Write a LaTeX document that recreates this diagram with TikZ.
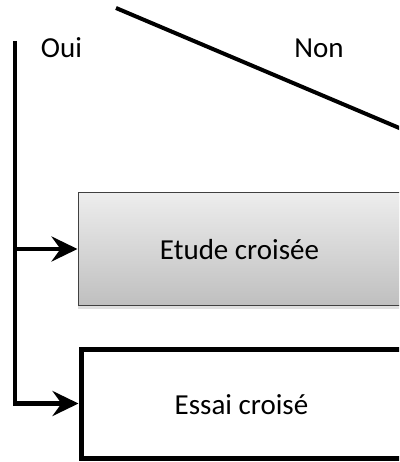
\documentclass[tikz,border=0pt]{standalone}
\usepackage{fontspec}
\setmainfont{Carlito}
\usetikzlibrary{arrows.meta,shadows}
\begin{document}
\begin{tikzpicture}[x=1pt,y=-1pt,
  lbl/.style={font=\fontsize{29}{34}\selectfont, inner sep=0pt, anchor=base},
  boxtext/.style={font=\fontsize{29}{34}\selectfont, text height=21pt, text depth=0pt, inner sep=0pt},
  conn/.style={line width=4.5pt, -{Stealth[length=26pt,width=25pt,inset=9pt]}},
  thick line/.style={line width=4pt},
]
\clip (0,0) rectangle (399,462);
\node[boxtext, draw=black!75, line width=1pt, top color=black!7, bottom color=black!25,
      minimum width=323pt, minimum height=113pt,
      drop shadow={opacity=0.25, shadow xshift=0pt, shadow yshift=-3pt}] (etude) at (239.5,249) {Etude croisée};
\node[boxtext, draw=black, line width=5pt, fill=white,
      minimum width=321pt, minimum height=109pt] (essai) at (241.5,403.5) {Essai croisé};
\coordinate (top) at (15,41);
\coordinate (j1) at (15,249);
\coordinate (d1) at (116,8);
\coordinate (d2) at (430,141);
\draw[conn] (top) |- (essai.west);
\draw[conn] (j1) -- (etude.west);
\draw[thick line] (d1) -- (d2);
\node[lbl] (oui) at (61.5,58) {Oui};
\node[lbl] (non) at (319,58) {Non};
\end{tikzpicture}
\end{document}
